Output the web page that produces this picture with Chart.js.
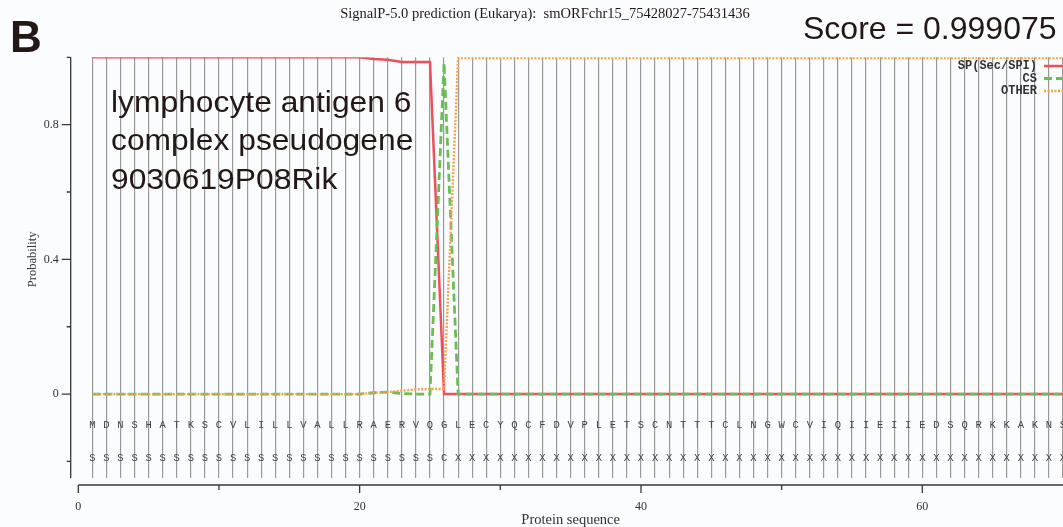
<!DOCTYPE html>
<html>
<head>
<meta charset="utf-8">
<script src="https://cdn.jsdelivr.net/npm/chart.js@4.4.1/dist/chart.umd.min.js"></script>
<style>
  html, body { margin: 0; padding: 0; background: #fbfcfe; }
  #wrap { width: 1063px; height: 527px; }
</style>
</head>
<body>
<div id="wrap"><canvas id="chart" width="1063" height="527"></canvas></div>
<script>
// residues shown on the plot (first 70 aa)
const sequence = "MDNSHATKSCVLILLVALLRAERVQGLECYQCFDVPLETSCNTTTCLNGWCVIQIIEIIEDSQRKKAKNS".split('');
const annotation = ("SSSSSSSSSSSSSSSSSSSSSSSSS" + "C" + "XXXXXXXXXXXXXXXXXXXXXXXXXXXXXXXXXXXXXXXXXXXX").split('');
const residues = sequence.map((aa, i) => i + 1);

// probabilities per residue
const sp = [
  1.0, 1.0, 1.0, 1.0, 1.0, 1.0, 1.0, 1.0, 1.0, 1.0,
  1.0, 1.0, 1.0, 1.0, 1.0, 1.0, 1.0, 1.0, 1.0, 1.0,
  0.995, 0.993, 0.986, 0.986, 0.986, 0, 0, 0, 0, 0,
  0, 0, 0, 0, 0, 0, 0, 0, 0, 0,
  0, 0, 0, 0, 0, 0, 0, 0, 0, 0,
  0, 0, 0, 0, 0, 0, 0, 0, 0, 0,
  0, 0, 0, 0, 0, 0, 0, 0, 0, 0
];
const cs = [
  0, 0, 0, 0, 0, 0, 0, 0, 0, 0,
  0, 0, 0, 0, 0, 0, 0, 0, 0, 0,
  0.004, 0.006, 0.002, 0, 0, 0.983, 0, 0, 0, 0,
  0, 0, 0, 0, 0, 0, 0, 0, 0, 0,
  0, 0, 0, 0, 0, 0, 0, 0, 0, 0,
  0, 0, 0, 0, 0, 0, 0, 0, 0, 0,
  0, 0, 0, 0, 0, 0, 0, 0, 0, 0
];
const other = [
  0, 0, 0, 0, 0, 0, 0, 0, 0, 0,
  0, 0, 0, 0, 0, 0, 0, 0, 0, 0,
  0.004, 0.006, 0.010, 0.014, 0.015, 0.015, 0.998, 0.998, 0.998, 0.998,
  0.998, 0.998, 0.998, 0.998, 0.998, 0.998, 0.998, 0.998, 0.998, 0.998,
  0.998, 0.998, 0.998, 0.998, 0.998, 0.998, 0.998, 0.998, 0.998, 0.998,
  0.998, 0.998, 0.998, 0.998, 0.998, 0.998, 0.998, 0.998, 0.998, 0.998,
  0.998, 0.998, 0.998, 0.998, 0.998, 0.998, 0.998, 0.998, 0.998, 0.998
];

const xMajor = [0, 20, 40, 60];
const xMinor = [10, 30, 50];
const yMajor = [0, 0.4, 0.8];
const yMinor = [-0.2, 0.2, 0.6, 1.0];

const serif = '"Liberation Serif", "Times New Roman", serif';
const sans = '"Liberation Sans", Arial, sans-serif';
const mono = '"Liberation Mono", "Courier New", monospace';

// axes, labels, sequence rows, legend and titles
const decor = {
  id: 'decor',
  afterDraw(chart) {
    const { ctx, chartArea: a } = chart;
    const x = chart.scales.x, y = chart.scales.y;
    const axisX = a.left - 7.6;
    const axisY = a.bottom + 6.7;
    ctx.save();

    // axis lines
    ctx.strokeStyle = '#3b3636';
    ctx.lineWidth = 1.3;
    ctx.beginPath();
    ctx.moveTo(axisX, a.top);
    ctx.lineTo(axisX, a.bottom);
    ctx.moveTo(x.getPixelForValue(0), axisY);
    ctx.lineTo(a.right, axisY);
    yMajor.forEach(v => { const p = y.getPixelForValue(v); ctx.moveTo(axisX - 9, p); ctx.lineTo(axisX, p); });
    yMinor.forEach(v => { const p = y.getPixelForValue(v); ctx.moveTo(axisX - 4, p); ctx.lineTo(axisX, p); });
    xMajor.forEach(v => { const p = x.getPixelForValue(v); ctx.moveTo(p, axisY); ctx.lineTo(p, axisY + 8); });
    xMinor.forEach(v => { const p = x.getPixelForValue(v); ctx.moveTo(p, axisY); ctx.lineTo(p, axisY + 5); });
    ctx.stroke();

    // tick labels
    ctx.fillStyle = '#333';
    ctx.font = '12px ' + serif;
    ctx.textAlign = 'right';
    ctx.textBaseline = 'middle';
    yMajor.forEach(v => ctx.fillText(String(v), axisX - 12, y.getPixelForValue(v)));
    ctx.textAlign = 'center';
    xMajor.forEach(v => ctx.fillText(String(v), x.getPixelForValue(v), 507));

    // axis titles
    ctx.font = '14.5px ' + serif;
    ctx.fillText('Protein sequence', x.getPixelForValue(35), 520);
    ctx.save();
    ctx.font = '12.5px ' + serif;
    ctx.translate(33, y.getPixelForValue(0.4));
    ctx.rotate(-Math.PI / 2);
    ctx.fillText('Probability', 0, 0);
    ctx.restore();

    // sequence and annotation rows
    ctx.font = '10.5px ' + mono;
    ctx.fillStyle = '#444';
    residues.forEach((r, i) => {
      const px = x.getPixelForValue(r);
      ctx.fillText(sequence[i], px, 425);
      ctx.fillText(annotation[i], px, 458);
    });

    // legend
    ctx.font = 'bold 12px ' + mono;
    ctx.fillStyle = '#333';
    ctx.textAlign = 'right';
    const rows = [66, 78.5, 91];
    chart.data.datasets.forEach((ds, i) => {
      ctx.fillText(ds.label, 1037, rows[i]);
      ctx.save();
      ctx.strokeStyle = ds.borderColor;
      ctx.lineWidth = ds.borderWidth;
      ctx.setLineDash(ds.borderDash || []);
      ctx.beginPath();
      ctx.moveTo(1044, rows[i]);
      ctx.lineTo(1075, rows[i]);
      ctx.stroke();
      ctx.restore();
    });

    // titles
    ctx.fillStyle = '#231815';
    ctx.textAlign = 'center';
    ctx.font = '14.5px ' + serif;
    ctx.fillText('SignalP-5.0 prediction (Eukarya):  smORFchr15_75428027-75431436', 545, 14);

    ctx.textAlign = 'left';
    ctx.textBaseline = 'alphabetic';
    ctx.font = 'bold 44px ' + sans;
    ctx.fillText('B', 10, 52);
    ctx.font = '32px ' + sans;
    ctx.fillText('Score = 0.999075', 803, 39);

    // gene note, slightly wide like the original
    ctx.save();
    ctx.translate(111, 0);
    ctx.scale(1.06, 1);
    ctx.font = '30px ' + sans;
    ctx.fillText('lymphocyte antigen 6', 0, 112);
    ctx.fillText('complex pseudogene', 0, 150);
    ctx.fillText('9030619P08Rik', 0, 188.5);
    ctx.restore();

    ctx.restore();
  }
};

new Chart(document.getElementById('chart'), {
  type: 'line',
  data: {
    labels: residues,
    datasets: [
      { label: 'SP(Sec/SPI)', data: sp, borderColor: '#ee4f5b', borderWidth: 2.5, order: 3 },
      { label: 'CS', data: cs, borderColor: '#6cbd56', borderWidth: 2.8, borderDash: [8, 4], order: 2 },
      { label: 'OTHER', data: other, borderColor: '#f4a24a', borderWidth: 2.4, borderDash: [2, 1.5], order: 1 }
    ]
  },
  options: {
    responsive: false,
    animation: false,
    layout: { padding: { left: 78.3, top: 57.3, right: 0, bottom: 48.7 } },
    elements: { point: { radius: 0 }, line: { tension: 0 } },
    plugins: { legend: { display: false }, tooltip: { enabled: false } },
    scales: {
      x: {
        type: 'linear', min: 0, max: 70,
        afterBuildTicks: scale => { scale.ticks = [0].concat(residues).map(v => ({ value: v })); },
        ticks: { display: false },
        border: { display: false },
        grid: {
          drawTicks: false, lineWidth: 1.2,
          color: c => (c.tick && c.tick.value === 0) ? 'rgba(0,0,0,0)' : '#999999'
        }
      },
      y: {
        min: -0.25, max: 1.0,
        ticks: { display: false },
        border: { display: false },
        grid: { display: false, drawTicks: false }
      }
    }
  },
  plugins: [decor]
});
</script>
</body>
</html>
